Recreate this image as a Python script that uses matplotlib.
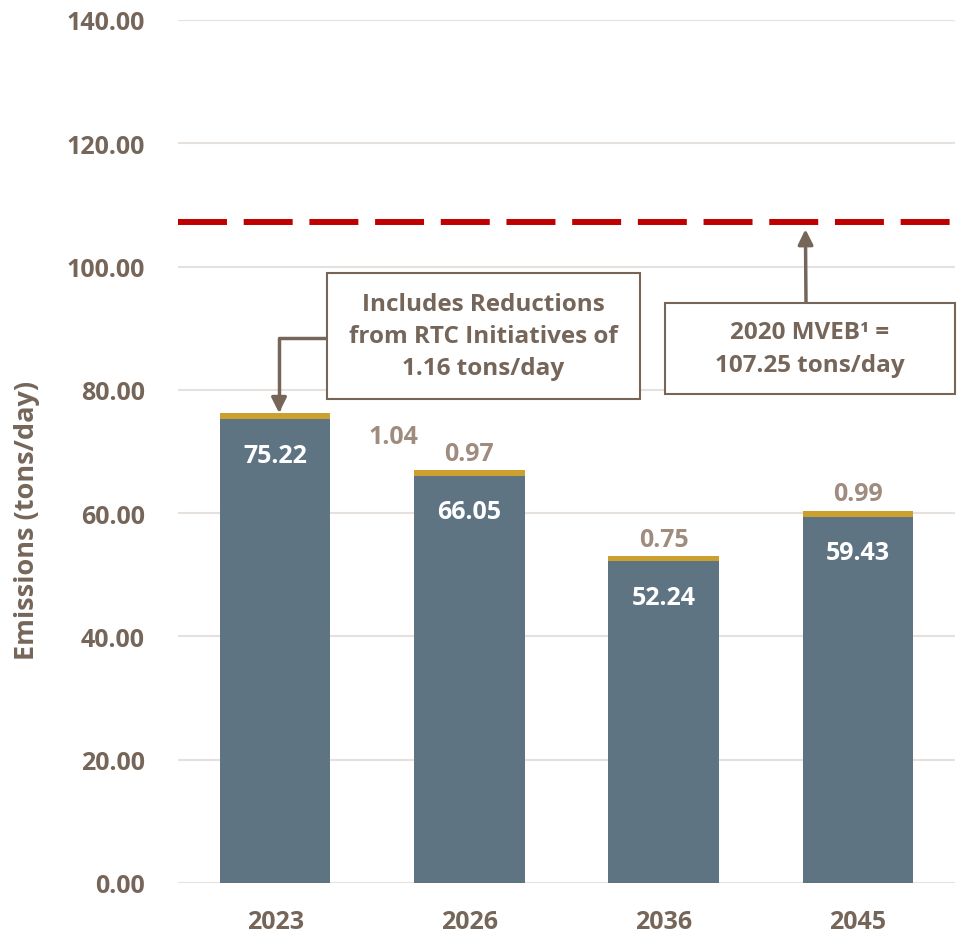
import matplotlib.pyplot as plt
from matplotlib.patches import Rectangle

years = ['2023', '2026', '2036', '2045']
base_vals = [75.22, 66.05, 52.24, 59.43]
rtc_vals = [1.04, 0.97, 0.75, 0.99]
mveb = 107.25
yticks = [0, 20, 40, 60, 80, 100, 120, 140]

W, H = 961, 937
brown = '#76665A'
light_brown = '#A08C7E'
bar_col = '#5F7482'
gold = '#CBA02E'
red = '#C00000'
grid_col = '#E6E1DD'

plt.rcParams['font.family'] = ['Open Sans', 'DejaVu Sans']
plt.rcParams['font.weight'] = 'bold'

fig = plt.figure(figsize=(W / 100, H / 100), dpi=100)
ax = fig.add_axes([178 / W, 1 - 884 / H, (955 - 178) / W, (884 - 21) / H])

x = list(range(len(years)))
ax.bar(x, base_vals, width=0.57, color=bar_col, zorder=3)
ax.bar(x, rtc_vals, width=0.57, bottom=base_vals, color=gold, zorder=3)

ax.set_xlim(-0.5, 3.5)
ax.set_ylim(0, 140)
ax.set_yticks(yticks)
ax.set_yticklabels(['%.2f' % v for v in yticks])
ax.set_xticks(x)
ax.set_xticklabels(years)
ax.tick_params(length=0, labelsize=18, colors=brown, pad=24)
ax.tick_params(axis='x', pad=19)
for lab in ax.get_xticklabels() + ax.get_yticklabels():
    lab.set_fontweight('bold')
ax.grid(axis='y', color=grid_col, lw=1.5, zorder=0)
for s in ax.spines.values():
    s.set_visible(False)

# target line
ax.axhline(mveb, color=red, lw=4.3, dashes=(8.2, 2.8), zorder=4)

# value labels
for i in x:
    ax.annotate('%.2f' % base_vals[i], (i, base_vals[i]), xytext=(0, -17),
                textcoords='offset points', ha='center', va='top',
                color='white', fontsize=18, fontweight='bold', zorder=5)
    if i == 0:
        ax.text(0.607, 72.4, '%.2f' % rtc_vals[i], ha='center', va='center',
                color=light_brown, fontsize=18, fontweight='bold')
    else:
        ax.annotate('%.2f' % rtc_vals[i], (i, base_vals[i] + rtc_vals[i]),
                    xytext=(0, 3), textcoords='offset points', ha='center',
                    va='bottom', color=light_brown, fontsize=18, fontweight='bold')

fig.text(27 / W, 1 - 520 / H, 'Emissions (tons/day)', rotation=90, ha='center',
         va='center', color=brown, fontsize=19.5, fontweight='bold')

# callout boxes
def box(x0, y0, x1, y1, txt):
    fig.add_artist(Rectangle((x0 / W, 1 - y1 / H), (x1 - x0) / W, (y1 - y0) / H,
                             transform=fig.transFigure, facecolor='white',
                             edgecolor=brown, lw=1.5, zorder=6))
    fig.text((x0 + x1) / 2 / W, 1 - (y0 + y1) / 2 / H, txt, ha='center', va='center',
             color=brown, fontsize=17.5, fontweight='bold', linespacing=1.45, zorder=7)

box(327, 274, 640, 400, 'Includes Reductions\nfrom RTC Initiatives of\n1.16 tons/day')
box(665, 304, 955, 395, '2020 MVEB¹ =\n107.25 tons/day')

arrow = dict(arrowstyle='-|>,head_length=0.9,head_width=0.45', color=brown, lw=2.5,
             shrinkA=0, shrinkB=0)
ax.annotate('', xy=(0.02, base_vals[0] + rtc_vals[0]), xycoords='data',
            xytext=(327 / W, 1 - 339 / H), textcoords='figure fraction',
            arrowprops=dict(arrow, connectionstyle='angle,angleA=180,angleB=90,rad=0'),
            zorder=8)
ax.annotate('', xy=(2.73, mveb - 1.2), xycoords='data',
            xytext=(806 / W, 1 - 304 / H), textcoords='figure fraction',
            arrowprops=arrow, zorder=8)

fig.savefig('out.png', dpi=100)
